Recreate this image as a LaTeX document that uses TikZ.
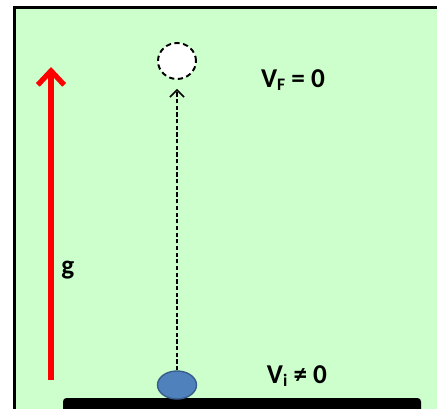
\documentclass[tikz,border=0pt]{standalone}
\usepackage{fontspec}
\setmainfont{Carlito}
\usetikzlibrary{arrows.meta,shapes.geometric}

\definecolor{bggreen}{RGB}{204,255,204}
\definecolor{ballblue}{RGB}{79,129,189}
\definecolor{balledge}{RGB}{56,93,138}

\begin{document}
\begin{tikzpicture}
[
	x=0.02cm, y=-0.02cm,
	ballpt/.style={ellipse,draw=balledge,fill=ballblue,line width=0.8pt,inner sep=0pt,minimum width=0.78cm,minimum height=0.56cm},
	ghostpt/.style={ellipse,draw,dash pattern=on 3pt off 2pt,fill=white,line width=1.1pt,inner sep=0pt,minimum width=0.76cm,minimum height=0.72cm},
	label/.style={font=\bfseries\fontsize{15.5}{18}\selectfont,inner sep=0pt}
]
	\useasboundingbox (0,0) rectangle (437,409);

	% background and frame
	\fill[bggreen] (14.5,7.5) rectangle (437,409);
	\draw[line width=1.7pt] (14.5,409) -- (14.5,7.5) -- (437,7.5);

	% ground
	\fill[black, rounded corners=2pt] (63,398) rectangle (421,415);

	% balls
	\node[ballpt] (ball) at (177,385) {};
	\node[ghostpt] (top) at (177,61) {};

	% path of the ball
	\draw[dash pattern=on 2.4pt off 1.4pt,line width=1pt,-{Straight Barb[length=4pt,width=8pt,line width=0.9pt]}] (ball.north) -- ([yshift=-0.18cm]top.south);

	% gravity
	\coordinate (gbot) at (51,380);
	\coordinate (gtop) at (51,67);
	\draw[red,line width=2.9pt,-{Straight Barb[length=8pt,width=15pt,line width=3pt]}] (gbot) -- (gtop);
	\node[label,anchor=west] (g) at (61,270) {g};

	% labels
	\node[label] (vf) at (293,80) {V{\fontsize{10}{12}\selectfont\raisebox{-0.35ex}{F}} = 0};
	\node[label] (vi) at (297,376) {V{\fontsize{10}{12}\selectfont\raisebox{-0.35ex}{i}} ≠ 0};

\end{tikzpicture}
\end{document}
